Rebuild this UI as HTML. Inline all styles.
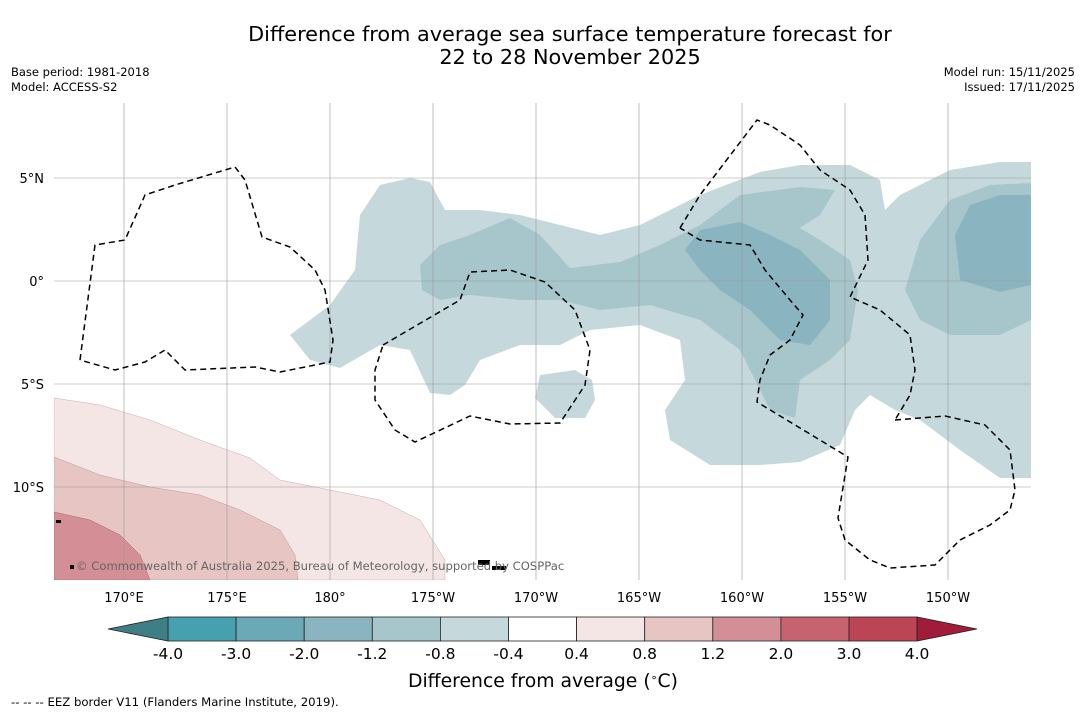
<!DOCTYPE html>
<html><head><meta charset="utf-8"><style>
body{margin:0;background:#fff;font-family:"DejaVu Sans","Liberation Sans",sans-serif}
svg text{font-family:"DejaVu Sans","Liberation Sans",sans-serif}
</style></head><body>
<svg id="c" width="1085" height="713" xmlns="http://www.w3.org/2000/svg">
<rect width="1085" height="713" fill="#fff"/>
<text x="570" y="41" font-size="20.8" text-anchor="middle" fill="#000">Difference from average sea surface temperature forecast for</text>
<text x="570" y="64" font-size="20.8" text-anchor="middle" fill="#000">22 to 28 November 2025</text>
<text x="11" y="76" font-size="11.5">Base period: 1981-2018</text>
<text x="11" y="91" font-size="11.5">Model: ACCESS-S2</text>
<text x="1075" y="76" font-size="11.5" text-anchor="end">Model run: 15/11/2025</text>
<text x="1075" y="91" font-size="11.5" text-anchor="end">Issued: 17/11/2025</text>
<g id="map">
<clipPath id="cl"><rect x="54" y="103" width="977" height="477"/></clipPath>
<g clip-path="url(#cl)">
<polygon fill="#c5d9dc" points="290,335 330,305 355,270 360,215 380,185 410,178 430,182 445,210 480,210 520,215 560,225 600,235 640,225 700,195 760,172 800,165 850,165 880,180 885,210 870,225 900,195 950,170 1000,162 1031,162 1031,478 1000,478 960,450 920,420 895,410 870,395 855,410 840,445 800,462 760,465 710,465 670,440 665,410 685,380 680,340 640,325 590,330 560,345 520,345 480,360 465,385 450,395 430,393 410,350 380,345 340,368 310,360"/>
<polygon fill="#c5d9dc" points="540,375 575,370 592,380 595,400 585,418 555,418 535,398"/>
<polygon fill="#a7c6cb" points="420,265 440,245 470,235 510,218 540,235 570,268 620,262 660,245 700,225 740,195 800,187 835,190 820,215 800,228 820,240 850,260 858,290 850,340 830,360 800,380 795,418 770,410 740,350 700,320 650,305 600,310 560,300 520,300 470,295 440,300 422,290"/>
<polygon fill="#a7c6cb" points="905,290 920,240 950,200 990,185 1031,183 1031,320 1000,335 950,335 920,320"/>
<polygon fill="#8ab5c0" points="685,250 700,230 740,222 770,235 800,250 830,280 830,320 810,345 780,340 750,310 720,290 700,270"/>
<polygon fill="#8ab5c0" points="955,235 970,205 1000,195 1031,195 1031,285 1000,292 960,280"/>
<polygon fill="#f4e6e5" stroke="#caa" stroke-width="0.5" points="54,398 100,405 150,420 200,440 250,458 280,480 330,490 380,500 420,520 445,560 445,580 54,580"/>
<polygon fill="#e6c5c2" stroke="#b99" stroke-width="0.5" points="54,457 100,475 150,487 200,495 240,510 280,530 295,555 298,580 54,580"/>
<polygon fill="#d48e95" stroke="#a66" stroke-width="0.5" points="54,512 90,520 120,535 140,555 150,580 54,580"/>
</g>
<g id="grid" stroke="#999" stroke-width="0.6"></g>
<g fill="none" stroke="#000" stroke-width="1.5" stroke-dasharray="6,4">
<polyline points="80,360 95,245 125,240 145,195 175,185 235,167 245,180 262,237 290,247 315,270 325,290 333,340 330,362 280,372 255,367 185,370 165,350 145,362 115,370 80,360"/>
<polyline points="383,345 460,300 470,272 510,270 545,282 575,310 590,350 585,385 560,423 510,424 470,416 415,442 395,430 375,400 375,370 383,345"/>
<polyline points="680,228 700,195 757,120 770,125 800,145 820,170 850,190 865,215 868,260 850,297 880,310 910,335 915,370 910,395 895,420"/>
<polyline points="895,420 945,416 985,425 1010,450 1015,490 1010,510 990,525 960,540 935,565 890,568 870,560 845,540 838,518 848,457 757,402 760,380 770,355 790,340 803,315 790,300 765,270 750,245 700,240 680,228"/>
</g>
<g fill="#000">
<rect x="478" y="560" width="12" height="5"/><rect x="492" y="566" width="14" height="4"/><rect x="56" y="520" width="5" height="3"/><rect x="70" y="565" width="4" height="4"/>
</g>
<text x="76" y="570" font-size="11.6" fill="#666">© Commonwealth of Australia 2025, Bureau of Meteorology, supported by COSPPac</text>
</g>
<g id="ticks"></g>
<g id="cbar"></g>
<text x="543" y="687" font-size="18.8" text-anchor="middle">Difference from average (<tspan baseline-shift="super" font-size="11">∘</tspan>C)</text>
<text x="11" y="706" font-size="11.7">--  --  -- EEZ border V11 (Flanders Marine Institute, 2019).</text>
</svg>
<script>
const lonLabels=["170°E","175°E","180°","175°W","170°W","165°W","160°W","155°W","150°W"];
const lonValues=[170,175,180,185,190,195,200,205,210];
const latLabels=["5°N","0°","5°S","10°S"];
const latValues=[5,0,-5,-10];
const levels=[-4.0,-3.0,-2.0,-1.2,-0.8,-0.4,0.4,0.8,1.2,2.0,3.0,4.0];
const levelColors=["#47a0b0","#6aa9b5","#8ab5c0","#a7c6cb","#c5d9dc","#ffffff","#f4e6e5","#e6c5c2","#d48e95","#c7636e","#bc4555"];
const ns="http://www.w3.org/2000/svg";
const xLon=v=>124+(v-170)*20.6, yLat=v=>281-v*20.6;
function mk(t,a,p){const e=document.createElementNS(ns,t);for(const k in a)e.setAttribute(k,a[k]);p.appendChild(e);return e;}
const g=document.getElementById('grid'),tk=document.getElementById('ticks'),cb=document.getElementById('cbar');
lonValues.forEach((v,i)=>{const x=xLon(v);
 const l=mk('line',{x1:x,x2:x,y1:103,y2:580},g);
 
 
 const t=mk('text',{x:x,y:602,'font-size':13,'text-anchor':'middle'},tk);t.textContent=lonLabels[i];
 
 });
latValues.forEach((v,i)=>{const y=yLat(v);
 const l=mk('line',{x1:54,x2:1031,y1:y,y2:y},g);
 
 
 const t=mk('text',{x:44,y:y+5,'font-size':13,'text-anchor':'end'},tk);t.textContent=latLabels[i];
 
 });
const cx0=168,cw=68.1,cy=617,ch=24;
levelColors.forEach((c,i)=>{const r=mk('rect',{x:cx0+i*cw,y:cy,width:cw,height:ch,fill:c,stroke:'#222','stroke-width':0.8},cb);
 
 });
const la=mk('polygon',{points:`108,629 ${cx0},${cy} ${cx0},${cy+ch}`,fill:'#3e7f86',stroke:'#222','stroke-width':0.8},cb);


const xe=cx0+levelColors.length*cw;
const ra=mk('polygon',{points:`${xe},${cy} 977,629 ${xe},${cy+ch}`,fill:'#a01c38',stroke:'#222','stroke-width':0.8},cb);


levels.forEach((v,i)=>{const t=mk('text',{x:cx0+i*cw,y:659,'font-size':15.5,'text-anchor':'middle'},cb);t.textContent=v.toFixed(1);
 
 });
</script>
</body></html>
